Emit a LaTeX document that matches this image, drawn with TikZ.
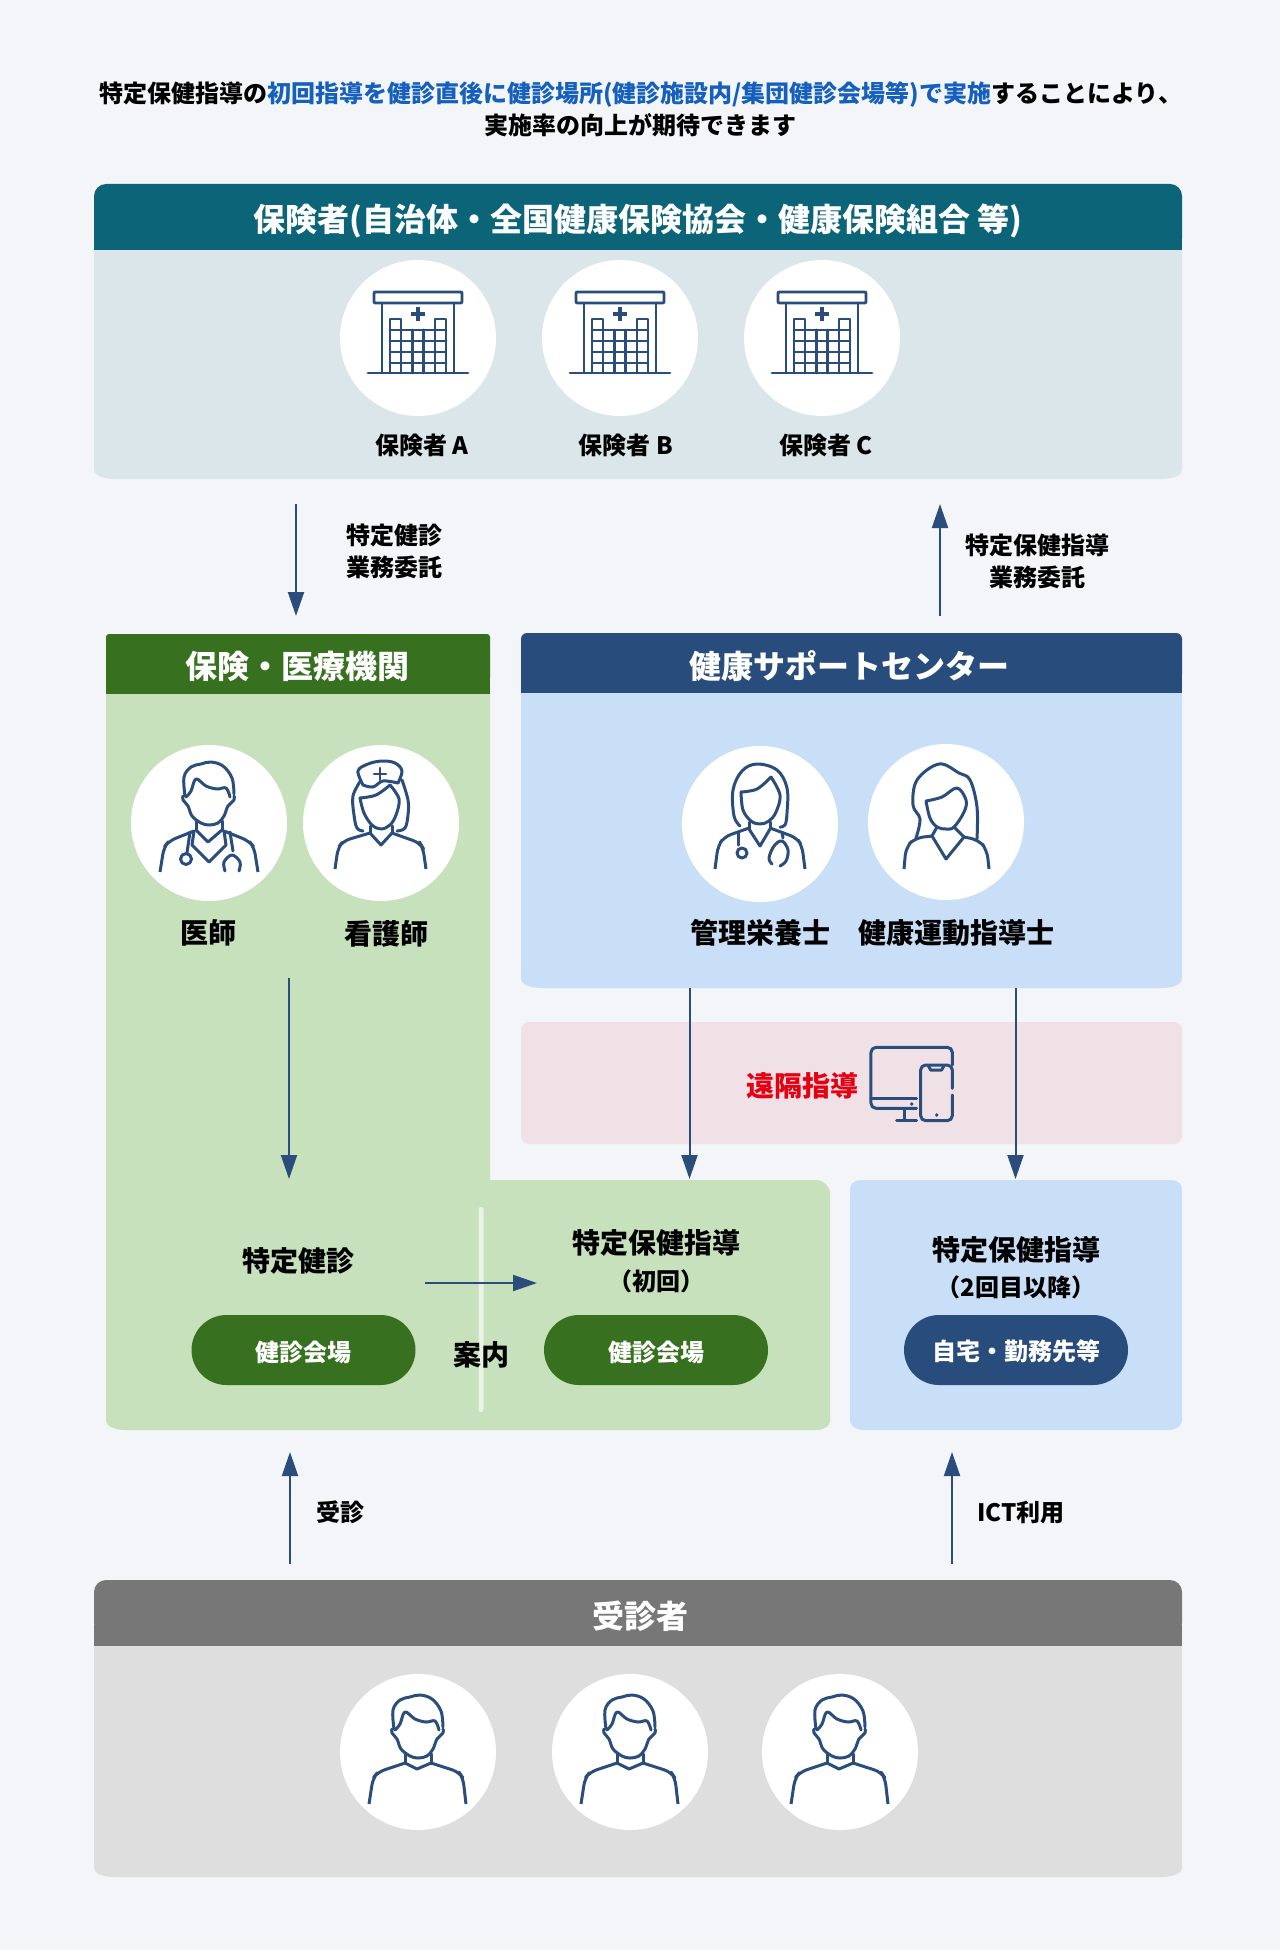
\documentclass[tikz,border=0pt]{standalone}
\usepackage{fontspec}
\setmainfont{Noto Sans CJK JP}
\usetikzlibrary{arrows.meta}
\definecolor{bgc}{HTML}{F3F5F8}
\definecolor{tealh}{HTML}{0B6478}
\definecolor{tealb}{HTML}{DBE6EA}
\definecolor{greenh}{HTML}{377120}
\definecolor{greenb}{HTML}{C7E1BC}
\definecolor{blueh}{HTML}{284C7B}
\definecolor{blueb}{HTML}{C9DFF7}
\definecolor{pinkb}{HTML}{F0E1E7}
\definecolor{grayh}{HTML}{777777}
\definecolor{grayb}{HTML}{DEDEDE}
\definecolor{icon}{HTML}{2A4D7C}
\definecolor{linkb}{HTML}{1560BD}
\definecolor{redt}{HTML}{E60012}
\newcommand{\fs}[1]{\fontsize{#1}{#1}\selectfont\bfseries}
\tikzset{
  circ/.style={circle,fill=white,minimum size=156pt,inner sep=0pt},
  lab/.style={inner sep=0pt,font=\fs{24},text=black,align=center},
  labb/.style={inner sep=0pt,font=\fs{28},text=black,align=center},
  headt/.style={inner sep=0pt,font=\fs{32},text=white},
  pill/.style={rounded corners=35pt,minimum width=224pt,minimum height=70pt,inner sep=0pt},
  pillt/.style={inner sep=0pt,font=\fs{24},text=white},
  flow/.style={draw=icon,line width=2pt,-{Triangle[length=24pt,width=16pt]}},
  ic/.style={draw=icon,line width=3pt,line cap=round,line join=round},
  sm/.style={smooth,tension=.6}
}
% panel body: square top, shallow elliptic bottom corners
\newcommand{\bodypanel}[5]{\fill[#5] (#1,#2) -- (#3,#2) -- (#3,#4-9) arc[start angle=0,end angle=-90,x radius=20pt,y radius=9pt] -- (#1+20,#4) arc[start angle=-90,end angle=-180,x radius=20pt,y radius=9pt] -- cycle;}
\newcommand{\hosp}[2]{\begin{scope}[shift={(#1,#2)},ic,line width=2.9pt]
 \draw[rounded corners=1pt] (-44,-46) rectangle (44,-35);
 \draw (-36,-35) -- (-36,35) (36,-35) -- (36,35) (-50,35) -- (50,35);
 \draw (-28,35) -- (-28,-19) -- (-17,-19) -- (-17,35) (17,35) -- (17,-19) -- (28,-19) -- (28,35);
 \draw (-5.7,-8) -- (-5.7,35) (5.7,-8) -- (5.7,35);
 \draw (-28,-8) -- (28,-8) (-28,3) -- (28,3) (-28,14) -- (28,14) (-28,25) -- (28,25);
 \draw[line width=4.4pt,line cap=butt] (-7,-24) -- (7,-24) (0,-31) -- (0,-17);
\end{scope}}
\newcommand{\malehead}{
 \draw plot[sm] coordinates {(-24,-23) (-25,-42) (-18,-52) (-8,-55) (2,-57) (14,-53) (23,-41) (25,-25)};
 \draw plot[sm] coordinates {(-23,-22) (-18,-28) (-13,-40) (-3,-33) (8,-30) (17,-31) (21,-22)};
 \draw plot[sm] coordinates {(-26,-23) (-26,-19) (-21,-13) (-17,-3) (-8,4) (0,6) (9,4) (15,-3) (19,-13) (25,-19) (25,-23)};
}
\newcommand{\manicon}[2]{\begin{scope}[shift={(#1,#2)},ic]
 \malehead
 \draw (-13,2) -- (-13,11) (13,2) -- (13,11);
 \draw[rounded corners=7pt,line cap=butt] (-49,52) -- (-45,26) -- (-40,20) -- (-13,11);
 \draw[rounded corners=7pt,line cap=butt] (48,52) -- (45,26) -- (41,20) -- (13,11);
 \draw (-13,11) -- (-1,17) -- (13,11);
\end{scope}}
\newcommand{\docicon}[2]{\begin{scope}[shift={(#1,#2)},ic]
 \begin{scope}[yshift=4pt]\malehead\end{scope}
 \draw (-13,-2) -- (-13,7) (13,-2) -- (13,7);
 \draw[rounded corners=7pt,line cap=butt] (-49,49) -- (-45,24) -- (-40,18) -- (-15,8);
 \draw[rounded corners=7pt,line cap=butt] (49,49) -- (45,24) -- (40,18) -- (15,8);
 \draw (-13,7) -- (-1,19) -- (13,7);
 \draw (-15,8) -- (-17,22) -- (0,39) -- (17,22) -- (15,8);
 \draw (-19,9) -- (-22,30);
 \draw (-23,36) circle (5.5pt);
 \draw (21,9) -- (24,28);
 \draw plot[sm] coordinates {(16,48) (15,39) (23,32) (31,39) (30,48)};
\end{scope}}
\newcommand{\nurseicon}[2]{\begin{scope}[shift={(#1,#2)},ic]
 \draw plot[sm] coordinates {(-18,-38) (-23,-52) (-13,-59) (1,-62) (14,-60) (21,-52) (17,-40)};
 \draw plot[sm] coordinates {(-18,-38) (-8,-36) (2,-42) (17,-40)};
 \draw[line width=2.8pt] (-7,-49) -- (5,-49) (-1,-55) -- (-1,-43);
 \draw plot[sm] coordinates {(-20,-43) (-28,-27) (-27,-8) (-24,5) (-18,8)};
 \draw plot[sm] coordinates {(21,-43) (27,-23) (27,-8) (24,5) (16,8)};
 \draw plot[sm] coordinates {(-21,-25) (-5,-28) (9,-38)};
 \draw plot[sm] coordinates {(9,-38) (18,-24) (15,-8) (9,2) (0,6) (-9,2) (-17,-10) (-21,-25)};
 \draw (-11,3) -- (-11,10) (11,3) -- (11,10);
 \draw[rounded corners=7pt,line cap=butt] (-46,46) -- (-43,25) -- (-38,18) -- (-11,10);
 \draw[rounded corners=7pt,line cap=butt] (45,46) -- (42,25) -- (39,20) -- (11,10);
 \draw (-11,10) -- (0,22) -- (11,10);
\end{scope}}
\newcommand{\fdocicon}[2]{\begin{scope}[shift={(#1,#2)},ic]
 \draw plot[sm] coordinates {(-20,2) (-26,-8) (-27,-34) (-18,-53) (-3,-60) (17,-54) (27,-36) (27,-11) (25,1) (20,3)};
 \draw plot[sm] coordinates {(-19,-32) (-3,-35) (11,-47)};
 \draw plot[sm] coordinates {(11,-47) (20,-29) (16,-12) (9,-3) (0,0) (-9,-3) (-17,-14) (-19,-32)};
 \draw (-11,-2) -- (-11,5) (10,-2) -- (10,5);
 \draw (-11,5) -- (0,22) -- (10,5);
 \draw[rounded corners=7pt,line cap=butt] (-45,45) -- (-42,22) -- (-36,13) -- (-11,4);
 \draw[rounded corners=7pt,line cap=butt] (45,45) -- (42,22) -- (37,14) -- (10,4);
 \draw (-22,8) -- (-22,21);
 \draw (-18,29) circle (5pt);
 \draw plot[sm] coordinates {(22,8) (23,14)};
 \draw plot[sm] coordinates {(20,42) (26,37) (28,26) (22,17) (14,22) (9,34) (12,40)};
\end{scope}}
\newcommand{\ficon}[2]{\begin{scope}[shift={(#1,#2)},ic]
 \draw plot[sm] coordinates {(-30,16) (-26,-3) (-33,-17) (-29,-42) (-7,-58) (13,-49) (24,-42) (31,-15) (31,17)};
 \draw plot[sm] coordinates {(-20,-21) (-4,-25) (11,-34)(20,-22) (18,-10) (8,5) (0,7) (-9,5) (-16,-4) (-20,-21)};
 \draw (-9,5) -- (-14,14) (8,5) -- (18,15);
 \draw (-14,14) -- (0,37) -- (18,15);
 \draw[rounded corners=8pt,line cap=butt] (-42,47) -- (-40,25) -- (-31,16) -- (-14,14);
 \draw[rounded corners=8pt,line cap=butt] (43,47) -- (41,28) -- (33,18) -- (18,15);
\end{scope}}
\begin{document}
\begin{tikzpicture}[x=1pt,y=-1pt]
\useasboundingbox (0,0) rectangle (1280,1950);
\fill[bgc] (0,0) rectangle (1280,1950);
% title
\node[lab,font=\fs{24},align=center] (title) at (640.5,109) {特定保健指導の\textcolor{linkb}{初回指導を健診直後に健診場所(健診施設内/集団健診会場等)で実施}することにより、\\[5pt]実施率の向上が期待できます};
% insurer panel
\bodypanel{94}{240}{1182}{479}{tealb}
\fill[tealh,rounded corners=12pt] (94,250) |- (1182,184) -- (1182,250) -- cycle;
\fill[tealh] (94,238) rectangle (1182,250);
\node[headt] (hinsurer) at (638,221) {保険者(自治体・全国健康保険協会・健康保険組合 等)};
\node[circ] (c1) at (418,338) {};
\node[circ] (c2) at (620,338) {};
\node[circ] (c3) at (822,338) {};
\hosp{418}{338}\hosp{620}{338}\hosp{822}{338}
\node[lab] (la) at (422,445) {保険者 A};
\node[lab] (lb) at (626,445) {保険者 B};
\node[lab] (lc) at (826,445) {保険者 C};
% delegation arrows
\coordinate (d1s) at (296,504); \coordinate (d1e) at (296,616);
\coordinate (d2s) at (940,616); \coordinate (d2e) at (940,504);
\draw[flow] (d1s) -- (d1e);
\draw[flow] (d2s) -- (d2e);
\node[lab,align=left] (ldl) at (394,551) {特定健診\\[8pt]業務委託};
\node[lab] (ldr) at (1037,561) {特定保健指導\\[8pt]業務委託};
% green panel
\fill[greenb] (106,650) -- (490,650) -- (490,1180) -- (816,1180) arc[start angle=90,end angle=0,radius=14pt] -- (830,1421) arc[start angle=0,end angle=-90,x radius=14pt,y radius=9pt] -- (125,1430) arc[start angle=-90,end angle=-180,x radius=19pt,y radius=9pt] -- cycle;
\fill[greenh,rounded corners=3pt] (106,680) |- (490,634) -- (490,680) -- cycle;
\fill[greenh] (106,670) rectangle (490,694);
\node[headt] (hgreen) at (297,666.5) {保険・医療機関};
\node[circ] (c4) at (209,823) {};
\node[circ] (c5) at (381,823) {};
\docicon{209}{823}\nurseicon{381}{823}
\node[labb] (ldoc) at (208,933) {医師};
\node[labb] (lnur) at (386,934) {看護師};
% blue panel
\bodypanel{521}{680}{1182}{988}{blueb}
\fill[blueh,rounded corners=6pt] (521,680) |- (1182,633) -- (1182,680) -- cycle;
\fill[blueh] (521,670) rectangle (1182,693);
\node[headt] (hblue) at (849,666) {健康サポートセンター};
\node[circ] (c6) at (760,824) {};
\node[circ] (c7) at (946,822) {};
\fdocicon{760}{824}\ficon{946}{822}
\node[labb] (ldie) at (760,933) {管理栄養士};
\node[labb] (lexe) at (956.5,933) {健康運動指導士};
% remote
\fill[pinkb,rounded corners=8pt] (521,1022) rectangle (1182,1144);
\node[labb,text=redt] (lrem) at (802,1086) {遠隔指導};
\begin{scope}[shift={(720,1020)},x=.3333pt,y=-.3333pt,ic]
 \draw[rounded corners=5pt] (590,265) -- (453,265) -- (453,82) -- (697,82) -- (697,135);
 \draw (453,235) -- (590,235);
 \fill[icon] (575,252) circle (1.9pt);
 \draw (555,268) -- (555,300) (530,300) -- (590,300);
 \draw[rounded corners=5pt] (697,205) -- (697,135) -- (602,135) -- (602,302) -- (697,302) -- (697,225);
 \draw (625,137) -- (632,150) -- (665,150) -- (672,137);
 \fill[icon] (650,285) circle (1.9pt);
\end{scope}
% right lower panel
\fill[blueb] (850,1190) arc[start angle=180,end angle=90,radius=10pt] -- (1172,1180) arc[start angle=90,end angle=0,radius=10pt] -- (1182,1421) arc[start angle=0,end angle=-90,x radius=14pt,y radius=9pt] -- (864,1430) arc[start angle=-90,end angle=-180,x radius=14pt,y radius=9pt] -- cycle;
% white divider
\fill[white,opacity=.6,rounded corners=2pt] (478.5,1207) rectangle (483.5,1412);
% arrows into lower panels
\coordinate (g1s) at (289,978); \coordinate (g1e) at (289,1179);
\coordinate (b1s) at (689.5,988); \coordinate (b1e) at (689.5,1179);
\coordinate (b2s) at (1015.5,988); \coordinate (b2e) at (1015.5,1179);
\draw[flow] (g1s) -- (g1e);
\draw[flow] (b1s) -- (b1e);
\draw[flow] (b2s) -- (b2e);
\coordinate (m1s) at (425,1283); \coordinate (m1e) at (537,1283);
\draw[flow] (m1s) -- (m1e);
\node[labb] (lk1) at (298.5,1261) {特定健診};
\node[labb] (lk2) at (656,1243) {特定保健指導};
\node[lab] (lk3) at (656,1281) {（初回）};
\node[labb] (lk4) at (1016,1250) {特定保健指導};
\node[lab] (lk5) at (1016,1287) {（2回目以降）};
\node[pill,fill=greenh] (p1) at (303.5,1350) {};
\node[pill,fill=greenh] (p2) at (656,1350) {};
\node[pill,fill=blueh] (p3) at (1016,1350) {};
\node[pillt] (p1t) at (303.5,1352.5) {健診会場};
\node[pillt] (p2t) at (656,1352.5) {健診会場};
\node[pillt] (p3t) at (1016,1351.5) {自宅・勤務先等};
\node[labb] (lan) at (481.5,1355) {案内};
% bottom arrows
\coordinate (u1s) at (290,1564); \coordinate (u1e) at (290,1452);
\coordinate (u2s) at (952,1564); \coordinate (u2e) at (952,1452);
\draw[flow] (u1s) -- (u1e);
\draw[flow] (u2s) -- (u2e);
\node[lab] (lj) at (340,1512) {受診};
\node[lab] (lict) at (1021,1512) {ICT利用};
% examinee panel
\bodypanel{94}{1630}{1182}{1877}{grayb}
\fill[grayh,rounded corners=12pt] (94,1635) |- (1182,1580) -- (1182,1635) -- cycle;
\fill[grayh] (94,1625) rectangle (1182,1646);
\node[headt] (hgray) at (640,1616) {受診者};
\node[circ] (c8) at (418,1752) {};
\node[circ] (c9) at (630,1752) {};
\node[circ] (c10) at (840,1752) {};
\manicon{418}{1752}\manicon{630}{1752}\manicon{840}{1752}
\end{tikzpicture}
\end{document}
